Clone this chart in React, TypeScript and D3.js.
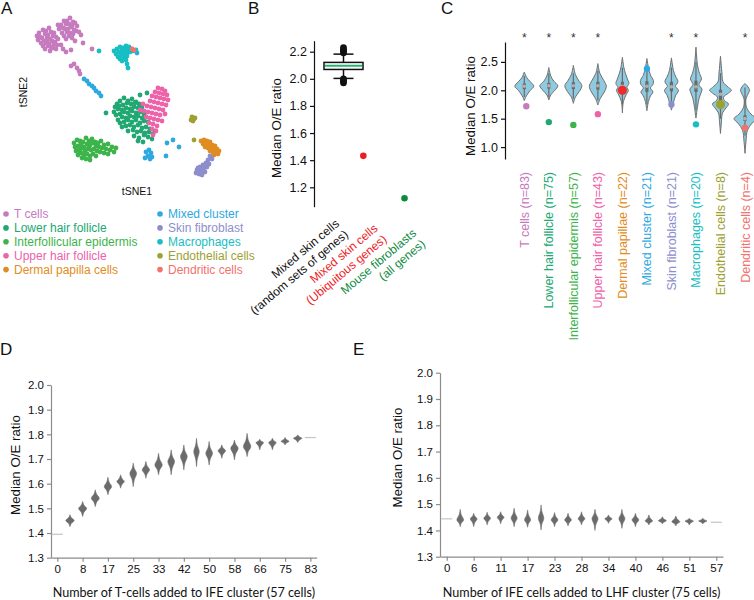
import React, { useRef, useEffect } from 'react';
import * as d3 from 'd3';

const ARIAL = '"Liberation Sans", Arial, Helvetica, sans-serif';
const HUMANIST = 'Lato, "Open Sans", sans-serif';

// ---------- A: tSNE map ----------
const clusterNames = [
  'T cells',
  'Lower hair follicle',
  'Interfollicular epidermis',
  'Upper hair follicle',
  'Dermal papilla cells',
  'Mixed cluster',
  'Skin fibroblast',
  'Macrophages',
  'Endothelial cells',
  'Dendritic cells',
];
const clusterColors = [
  '#c57bbe',
  '#21a872',
  '#3db44b',
  '#ee62a9',
  '#df8d22',
  '#2da9e1',
  '#8d8ecb',
  '#17bec3',
  '#9da131',
  '#f2726e',
];

// tSNE1 / tSNE2 coordinates
const tCellPoints = [
  [-88, 64], [-86, 67], [-82, 70], [-79, 69], [-76, 72], [-87, 60], [-83, 62], [-80, 66], [-77, 65], [-74, 68], [-71, 67],
  [-84, 57], [-81, 59], [-78, 62], [-75, 61], [-72, 64], [-69, 63], [-82, 54], [-79, 57], [-76, 56], [-73, 59], [-70, 58], [-67, 61],
  [-80, 51], [-77, 54], [-74, 53], [-71, 56], [-68, 55], [-75, 49], [-72, 52], [-69, 51], [-85, 63], [-78, 58],
  [-67, 75], [-64, 75], [-61, 79], [-58, 79], [-55, 82], [-52, 78], [-66, 71], [-62, 72], [-59, 76], [-56, 76], [-53, 74], [-50, 77],
  [-63, 67], [-60, 71], [-57, 71], [-54, 73], [-51, 70], [-48, 74], [-61, 64], [-58, 68], [-55, 67], [-52, 66], [-49, 69], [-46, 68],
  [-59, 61], [-56, 64], [-53, 62], [-44, 65], [-50, 59], [-42, 57], [-64, 55], [-62, 51], [-59, 48], [-54, 50],
  [-33, 51], [-54, 34], [-51, 36], [-48, 32], [-46, 29], [-45, 26],
];
const lhfPoints = [
  [-8, -4], [-5, -1], [-1, 2], [3, -1], [7, 1], [11, -2], [-10, -7], [-6, -6], [-2, -5], [2, -3], [6, -4], [10, -3], [14, -4],
  [-11, -12], [-7, -9], [-3, -10], [1, -8], [5, -9], [9, -7], [13, -8], [17, -7], [-9, -15], [-5, -14], [-1, -12], [3, -13],
  [7, -11], [11, -13], [15, -12], [19, -14], [-7, -20], [-3, -17], [1, -18], [5, -16], [9, -17], [13, -16], [17, -18], [21, -17],
  [-5, -23], [-1, -22], [3, -20], [7, -22], [11, -20], [15, -23], [19, -21], [23, -22], [-3, -27], [1, -26], [5, -25], [9, -27],
  [13, -25], [17, -28], [21, -27], [25, -29], [3, -31], [8, -30], [12, -32], [16, -31], [20, -33], [24, -32], [28, -34],
  [9, -36], [14, -38], [19, -35], [23, -37], [27, -39], [13, -41], [18, -42], [-19, -13], [22, 7], [15, 5], [30, -31],
];
const ifePoints = [
  [-51, -43], [-48, -40], [-45, -41], [-42, -42], [-39, -38], [-36, -41], [-33, -39], [-30, -42], [-27, -43], [-24, -41],
  [-21, -45], [-17, -44], [-13, -47], [-9, -48], [-50, -47], [-47, -46], [-44, -44], [-41, -47], [-38, -44], [-35, -45],
  [-32, -43], [-29, -46], [-26, -47], [-23, -48], [-19, -49], [-15, -50], [-11, -52], [-49, -51], [-46, -50], [-43, -48],
  [-40, -51], [-37, -49], [-34, -50], [-31, -49], [-28, -51], [-25, -52], [-21, -53], [-17, -54], [-47, -55], [-44, -53],
  [-41, -55], [-38, -54], [-35, -56], [-32, -54], [-29, -56], [-43, -58], [-39, -59], [-35, -60], [-36, -47], [-45, -52],
];
const uhfPoints = [
  [33, 12], [37, 11], [40, 9], [30, 8], [34, 7], [38, 6], [42, 5], [27, 4], [31, 3], [35, 2], [39, 1], [43, 0],
  [25, -1], [29, -2], [33, -3], [37, -4], [41, -5], [18, -4], [22, -6], [26, -7], [30, -8], [34, -9], [38, -10],
  [15, -10], [19, -11], [23, -12], [27, -13], [31, -14], [35, -15], [21, -17], [25, -18], [29, -19], [33, -20], [37, -21],
  [24, -23], [28, -24], [32, -26], [27, -29], [31, -31], [40, -14], [28, -35],
];
const dermalPoints = [
  [76, -41], [79, -40], [82, -41], [85, -42], [78, -44], [81, -44], [84, -45], [87, -45], [90, -46], [80, -47],
  [83, -48], [86, -48], [89, -49], [92, -49], [85, -51], [88, -52], [91, -52], [94, -51], [89, -55], [93, -54],
];
const mixedPoints = [
  [-41, 21], [-38, 19], [-36, 16], [-33, 14], [-31, 12], [-29, 9], [-26, 7], [-24, 4], [12, 47],
  [42, -43], [48, -40], [54, -47], [41, -56], [21, -52], [24, -50], [26, -53], [23, -56], [27, -57], [20, -58], [25, -59],
];
const fibroblastPoints = [
  [85, -56], [87, -59], [83, -60], [81, -63], [84, -64], [78, -65], [75, -67], [79, -68], [82, -67],
  [72, -70], [75, -71], [78, -71], [71, -73], [74, -74], [77, -75], [80, -72], [73, -68],
];
const macrophagePoints = [
  [-11, 49], [-8, 51], [-5, 53], [-2, 52], [1, 54], [4, 53], [-9, 46], [-6, 48], [-3, 49], [0, 50], [3, 50], [6, 51],
  [-7, 43], [-4, 45], [-1, 46], [2, 47], [5, 48], [8, 49], [11, 50], [-5, 41], [-1, 43], [2, 44], [-3, 39], [1, 40],
  [2, 36], [3, 32], [-26, 49],
];
const endothelialPoints = [[67, -17], [69, -19], [66, -20], [68, -21], [70, -18], [69, -40]];
const dendriticPoints = [[7, 51], [9, 50]];

const tsneClusters = [
  tCellPoints, lhfPoints, ifePoints, uhfPoints, dermalPoints,
  mixedPoints, fibroblastPoints, macrophagePoints, endothelialPoints, dendriticPoints,
];

// ---------- B: O/E ratio of reference sets ----------
const bLabelLines = [
  ['Mixed skin cells', '(random sets of genes)'],
  ['Mixed skin cells', '(Ubiquitous genes)'],
  ['Mouse fibroblasts', '(all genes)'],
];
const bLabelColors = ['#111111', '#ed1c24', '#0e8a3e'];
const bTicks = [1.2, 1.4, 1.6, 1.8, 2.0, 2.2];
const bRandomBox = { lo: 2.003, q1: 2.069, median: 2.096, q3: 2.121, hi: 2.182 };
const bRandomOutliers = [2.19, 2.2, 2.21, 2.22, 2.23, 1.97, 1.98, 1.99, 2.0];
const bUbiquitous = 1.432;
const bUbiquitousJitter = -0.35;
const bFibroblast = 1.119;

// ---------- C: per-cluster violins ----------
const cLabels = [
  'T cells (n=83)',
  'Lower hair follicle (n=75)',
  'Interfollicular epidermis (n=57)',
  'Upper hair follicle (n=43)',
  'Dermal papillae (n=22)',
  'Mixed cluster (n=21)',
  'Skin fibroblast (n=21)',
  'Macrophages (n=20)',
  'Endothelial cells (n=8)',
  'Dendritic cells (n=4)',
];
const cColors = ['#c57bbe', '#21a872', '#3db44b', '#ee62a9', '#df8d22', '#2da9e1', '#8d8ecb', '#17bec3', '#9da131', '#f2726e'];
const cTicks = [1.0, 1.5, 2.0, 2.5];
const cSignificant = [true, true, true, true, false, false, true, true, false, true];
const cClusterValue = [1.72, 1.44, 1.39, 1.58, 2.0, 2.38, 1.75, 1.4, 1.75, 1.34];
const cMedian = [2.07, 2.08, 2.08, 2.08, 2.07, 2.07, 2.06, 2.06, 1.93, 1.5];
const cQ1 = [2.02, 2.03, 2.02, 2.01, 1.98, 1.97, 1.98, 1.97, 1.76, 1.46];
const cQ3 = [2.12, 2.13, 2.14, 2.15, 2.15, 2.16, 2.15, 2.17, 2.01, 1.56];
const cLow = [1.88, 1.88, 1.85, 1.82, 1.75, 1.75, 1.78, 1.65, 1.5, 1.2];
const cHigh = [2.25, 2.3, 2.3, 2.35, 2.4, 2.4, 2.4, 2.5, 2.3, 2.05];
// [value, density] pairs tracing each violin outline
const cViolinProfiles = [
  [[1.82, 0], [1.9, 2], [2.0, 6], [2.07, 9.5], [2.15, 6], [2.22, 2.5], [2.32, 0]],
  [[1.83, 0], [1.92, 2], [2.0, 6], [2.08, 9], [2.16, 5], [2.25, 2], [2.4, 0]],
  [[1.77, 0], [1.88, 2], [1.98, 6], [2.08, 8.5], [2.18, 5], [2.28, 2], [2.44, 0]],
  [[1.74, 0], [1.86, 2.5], [1.97, 6.5], [2.07, 8.5], [2.17, 6], [2.3, 2], [2.47, 0]],
  [[1.6, 0], [1.8, 1], [1.93, 4], [2.0, 6], [2.05, 4.5], [2.12, 6.5], [2.2, 5], [2.3, 3], [2.4, 1.5], [2.58, 0]],
  [[1.64, 0], [1.8, 1.5], [1.9, 3.5], [1.97, 6], [2.04, 3.5], [2.1, 6], [2.17, 6.5], [2.27, 3.5], [2.4, 1.5], [2.56, 0]],
  [[1.65, 0], [1.78, 2], [1.9, 4], [2.0, 7], [2.07, 4], [2.15, 6.5], [2.25, 4], [2.35, 2], [2.57, 0]],
  [[1.51, 0], [1.7, 1.5], [1.85, 3], [1.95, 5], [2.02, 6], [2.1, 3], [2.2, 5.5], [2.3, 3.5], [2.45, 1.5], [2.76, 0]],
  [[1.24, 0], [1.45, 1], [1.6, 2], [1.7, 6], [1.76, 8], [1.82, 4], [1.88, 3], [1.95, 8], [2.0, 11], [2.05, 8], [2.15, 2.5], [2.3, 1.5], [2.6, 0]],
  [[0.89, 0], [1.1, 1], [1.3, 2.5], [1.42, 7], [1.5, 11], [1.58, 6], [1.7, 1.5], [1.85, 1], [1.95, 3.5], [2.0, 4.5], [2.06, 3], [2.12, 0]],
];

// ---------- D / E: mixing experiments ----------
const rampYTicks = [1.3, 1.4, 1.5, 1.6, 1.7, 1.8, 1.9, 2.0];

const dCategories = [0, 4, 8, 13, 17, 21, 25, 29, 33, 38, 42, 46, 50, 54, 58, 62, 66, 71, 75, 79, 83];
const dTickLabels = [0, 8, 17, 25, 33, 42, 50, 58, 66, 75, 83];
const dRefStart = 1.395;
const dRefEnd = 1.787;
const dMid = [1.451, 1.5, 1.541, 1.588, 1.609, 1.642, 1.656, 1.676, 1.69, 1.71, 1.73, 1.723, 1.734, 1.744, 1.75, 1.767, 1.767, 1.772, 1.784];
const dLow = [1.426, 1.467, 1.507, 1.555, 1.582, 1.588, 1.622, 1.636, 1.636, 1.656, 1.669, 1.676, 1.703, 1.696, 1.71, 1.737, 1.737, 1.757, 1.767];
const dHigh = [1.474, 1.528, 1.575, 1.626, 1.636, 1.683, 1.69, 1.723, 1.737, 1.757, 1.784, 1.771, 1.757, 1.777, 1.804, 1.78, 1.784, 1.787, 1.798];
const dDensity = [1, 0.95, 0.95, 0.88, 0.88, 0.8, 0.88, 0.88, 0.8, 0.8, 0.65, 0.8, 0.88, 0.88, 0.88, 0.88, 0.88, 0.95, 1];

const eCategories = [0, 3, 6, 8, 11, 14, 17, 20, 23, 25, 28, 31, 34, 37, 40, 43, 46, 48, 51, 54, 57];
const eTickLabels = [0, 6, 11, 17, 23, 28, 34, 40, 46, 51, 57];
const eRefStart = 1.444;
const eRefEnd = 1.431;
const eMid = [1.44, 1.444, 1.446, 1.45, 1.446, 1.44, 1.446, 1.44, 1.44, 1.444, 1.445, 1.444, 1.445, 1.44, 1.436, 1.437, 1.433, 1.436, 1.436];
const eLow = [1.414, 1.414, 1.421, 1.425, 1.414, 1.412, 1.402, 1.414, 1.417, 1.421, 1.4, 1.427, 1.408, 1.414, 1.421, 1.425, 1.417, 1.421, 1.425];
const eHigh = [1.48, 1.465, 1.469, 1.471, 1.484, 1.478, 1.497, 1.468, 1.465, 1.471, 1.48, 1.459, 1.48, 1.465, 1.459, 1.452, 1.455, 1.446, 1.446];
const eDensity = [0.8, 0.8, 0.8, 0.8, 0.72, 0.72, 0.65, 0.8, 0.8, 0.8, 0.72, 0.88, 0.72, 0.8, 0.88, 0.95, 0.95, 1, 1];

const styleAxis = (g, lineColor, fontSize) => {
  g.attr('font-family', ARIAL);
  g.select('.domain').attr('stroke', lineColor).attr('stroke-width', 1.2);
  g.selectAll('.tick line').attr('stroke', lineColor).attr('stroke-width', 1.2);
  g.selectAll('.tick text')
    .attr('fill', '#111')
    .attr('font-size', fontSize)
    .attr('font-family', ARIAL);
};

const panelLetter = (svg, letter, x, y) => {
  svg
    .append('text')
    .attr('x', x)
    .attr('y', y)
    .attr('font-family', ARIAL)
    .attr('font-size', 17)
    .attr('fill', '#111')
    .text(letter);
};

const verticalTitle = (svg, text, x, y, size) => {
  svg
    .append('text')
    .attr('transform', `translate(${x},${y}) rotate(-90)`)
    .attr('text-anchor', 'middle')
    .attr('font-family', ARIAL)
    .attr('font-size', size)
    .attr('fill', '#111')
    .text(text);
};

const drawTsne = (svg) => {
  const x = d3.scaleLinear().domain([-100, 100]).range([25, 225]);
  const y = d3.scaleLinear().domain([-100, 100]).range([200, 0]);
  const g = svg.append('g');
  tsneClusters.forEach((pts, i) => {
    g.selectAll(null)
      .data(pts)
      .enter()
      .append('circle')
      .attr('cx', (d) => x(d[0]))
      .attr('cy', (d) => y(d[1]))
      .attr('r', 2.4)
      .attr('fill', clusterColors[i]);
  });

  svg
    .append('text')
    .attr('x', 137)
    .attr('y', 195)
    .attr('text-anchor', 'middle')
    .attr('font-family', ARIAL)
    .attr('font-size', 10.5)
    .attr('fill', '#111')
    .text('tSNE1');
  verticalTitle(svg, 'tSNE2', 26.5, 92, 10.5);

  // legend, two columns of five
  const legend = svg.append('g');
  clusterNames.forEach((name, i) => {
    const col = Math.floor(i / 5);
    const row = i % 5;
    const lx = col === 0 ? 6 : 160;
    const ly = 214 + row * 13.9;
    legend.append('circle').attr('cx', lx).attr('cy', ly).attr('r', 2.8).attr('fill', clusterColors[i]);
    legend
      .append('text')
      .attr('x', lx + 8)
      .attr('y', ly + 4.2)
      .attr('font-family', ARIAL)
      .attr('font-size', 12)
      .attr('fill', clusterColors[i])
      .text(name);
  });
};

const drawB = (svg) => {
  const cats = bLabelLines.map((l) => l.join(' '));
  const x = d3.scalePoint().domain(cats).range([343.5, 404.5]);
  const labelX = d3.scalePoint().domain(cats).range([340, 417]);
  const labelY = d3.scalePoint().domain(cats).range([225, 234.5]);
  const y = d3.scaleLinear().domain([1.057, 2.281]).range([206.7, 40.7]);

  const axis = svg
    .append('g')
    .attr('transform', 'translate(314,0)')
    .call(d3.axisLeft(y).tickValues(bTicks).tickFormat(d3.format('.1f')).tickSize(4).tickSizeOuter(0).tickPadding(3));
  styleAxis(axis, '#111', 12.5);
  verticalTitle(svg, 'Median O/E ratio', 281, 128, 13.3);

  const bx = x(cats[0]);
  const g = svg.append('g');
  g.append('line').attr('x1', bx).attr('x2', bx).attr('y1', y(bRandomBox.q3)).attr('y2', y(bRandomBox.hi)).attr('stroke', '#111').attr('stroke-width', 1.5);
  g.append('line').attr('x1', bx).attr('x2', bx).attr('y1', y(bRandomBox.q1)).attr('y2', y(bRandomBox.lo)).attr('stroke', '#111').attr('stroke-width', 1.5);
  [bRandomBox.hi, bRandomBox.lo].forEach((v) => {
    g.append('line').attr('x1', bx - 10).attr('x2', bx + 10).attr('y1', y(v)).attr('y2', y(v)).attr('stroke', '#111').attr('stroke-width', 1.5);
  });
  g.selectAll(null)
    .data(bRandomOutliers)
    .enter()
    .append('circle')
    .attr('cx', bx)
    .attr('cy', (d) => y(d))
    .attr('r', 3.3)
    .attr('fill', '#111');
  g.append('rect')
    .attr('x', bx - 19.5)
    .attr('width', 39)
    .attr('y', y(bRandomBox.q3))
    .attr('height', y(bRandomBox.q1) - y(bRandomBox.q3))
    .attr('fill', '#fff')
    .attr('stroke', '#111')
    .attr('stroke-width', 1.5);
  g.append('line')
    .attr('x1', bx - 18.5)
    .attr('x2', bx + 18.5)
    .attr('y1', y(bRandomBox.median))
    .attr('y2', y(bRandomBox.median))
    .attr('stroke', '#27b574')
    .attr('stroke-width', 2);

  const step = x.step();
  g.append('circle').attr('cx', x(cats[1]) + bUbiquitousJitter * step).attr('cy', y(bUbiquitous)).attr('r', 3.3).attr('fill', bLabelColors[1]);
  g.append('circle').attr('cx', x(cats[2])).attr('cy', y(bFibroblast)).attr('r', 3.3).attr('fill', bLabelColors[2]);

  bLabelLines.forEach((lines, i) => {
    const t = svg
      .append('text')
      .attr('transform', `translate(${labelX(cats[i])},${labelY(cats[i])}) rotate(-40)`)
      .attr('text-anchor', 'end')
      .attr('font-family', ARIAL)
      .attr('font-size', 12)
      .attr('fill', bLabelColors[i]);
    lines.forEach((line, j) => {
      t.append('tspan').attr('x', 0).attr('y', j * 14).text(line);
    });
  });
};

const drawC = (svg) => {
  const x = d3.scalePoint().domain(cLabels).range([524.3, 745]);
  const y = d3.scaleLinear().domain([0.79, 2.85]).range([159, 42]);
  const w = d3.scaleLinear().domain([0, 11]).range([0, 11]);

  const axis = svg
    .append('g')
    .attr('transform', 'translate(505,0)')
    .call(d3.axisLeft(y).tickValues(cTicks).tickFormat(d3.format('.1f')).tickSize(4).tickSizeOuter(0).tickPadding(3));
  styleAxis(axis, '#111', 12.5);
  verticalTitle(svg, 'Median O/E ratio', 474.5, 106, 13.3);

  const g = svg.append('g');
  cLabels.forEach((label, i) => {
    const cx = x(label);
    const area = d3
      .area()
      .y((d) => y(d[0]))
      .x0((d) => cx - w(d[1]))
      .x1((d) => cx + w(d[1]))
      .curve(d3.curveCatmullRom);
    g.append('path')
      .attr('d', area(cViolinProfiles[i]))
      .attr('fill', '#8ecbe0')
      .attr('stroke', '#6f6f6f')
      .attr('stroke-width', 1);
    g.append('line').attr('x1', cx).attr('x2', cx).attr('y1', y(cLow[i])).attr('y2', y(cHigh[i])).attr('stroke', '#6a6a6a').attr('stroke-width', 1.2);
    g.append('rect').attr('x', cx - 1.6).attr('width', 3.2).attr('y', y(cQ3[i])).attr('height', y(cQ1[i]) - y(cQ3[i])).attr('fill', '#6a6a6a');
    g.append('circle').attr('cx', cx).attr('cy', y(cMedian[i])).attr('r', 1.8).attr('fill', '#b0b0b0');

    const big = label.startsWith('Dermal') || label.startsWith('Endothelial');
    g.append('circle')
      .attr('cx', cx + (i === 0 ? 2 : 0))
      .attr('cy', y(cClusterValue[i]))
      .attr('r', big ? 4.6 : 3.2)
      .attr('fill', label.startsWith('Dermal') ? '#ee2a2a' : cColors[i]);

    if (cSignificant[i]) {
      svg.append('text').attr('x', cx).attr('y', 42).attr('text-anchor', 'middle').attr('font-family', ARIAL).attr('font-size', 12).attr('fill', '#333').text('*');
    }
    svg
      .append('text')
      .attr('transform', `translate(${cx + 4.5},172) rotate(-90)`)
      .attr('text-anchor', 'end')
      .attr('font-family', ARIAL)
      .attr('font-size', 12.5)
      .attr('fill', cColors[i])
      .text(label);
  });
};

const drawRamp = (svg, o) => {
  const x = d3.scalePoint().domain(o.cats.map(String)).range(o.xRange).padding(0.5);
  const y = d3.scaleLinear().domain([1.3, 2.0]).range(o.yRange);
  const maxHalf = 4.2;

  const yAxis = svg
    .append('g')
    .attr('transform', `translate(${o.xRange[0]},0)`)
    .call(d3.axisLeft(y).tickValues(rampYTicks).tickFormat(d3.format('.1f')).tickSize(4).tickSizeOuter(0).tickPadding(3));
  styleAxis(yAxis, '#8c8c8c', 11.5);
  const xAxis = svg
    .append('g')
    .attr('transform', `translate(0,${o.yRange[0]})`)
    .call(d3.axisBottom(x).tickValues(o.ticks.map(String)).tickSize(4).tickSizeOuter(0).tickPadding(3));
  styleAxis(xAxis, '#8c8c8c', 11.5);

  const g = svg.append('g');
  const first = x(String(o.cats[0]));
  const last = x(String(o.cats[o.cats.length - 1]));
  [[first, o.refStart], [last, o.refEnd]].forEach(([cx, v]) => {
    g.append('line').attr('x1', cx - 5.5).attr('x2', cx + 5.5).attr('y1', y(v)).attr('y2', y(v)).attr('stroke', '#c4c4c4').attr('stroke-width', 1.2);
  });

  o.mid.forEach((m, i) => {
    const cx = x(String(o.cats[i + 1]));
    const lo = o.low[i];
    const hi = o.high[i];
    const half = o.density[i] * maxHalf;
    const profile = [
      [lo, 0],
      [lo + (m - lo) * 0.5, half * 0.3],
      [m, half],
      [m + (hi - m) * 0.5, half * 0.3],
      [hi, 0],
    ];
    const area = d3
      .area()
      .y((d) => y(d[0]))
      .x0((d) => cx - d[1])
      .x1((d) => cx + d[1])
      .curve(d3.curveCatmullRom);
    g.append('path').attr('d', area(profile)).attr('fill', '#6b6b6b').attr('stroke', '#6b6b6b').attr('stroke-width', 0.6);
  });

  verticalTitle(svg, 'Median O/E ratio', o.yTitleX, o.yTitleY, 13.3);
  svg
    .append('text')
    .attr('x', (o.xRange[0] + o.xRange[1]) / 2)
    .attr('y', 597)
    .attr('text-anchor', 'middle')
    .attr('font-family', HUMANIST)
    .attr('font-size', 12.6)
    .attr('fill', '#111')
    .text(o.title);
};

export default function App() {
  const svgRef = useRef(null);

  useEffect(() => {
    const svg = d3.select(svgRef.current);
    svg.selectAll('*').remove();

    panelLetter(svg, 'A', 1, 13.5);
    panelLetter(svg, 'B', 248, 13.5);
    panelLetter(svg, 'C', 441, 13.5);
    panelLetter(svg, 'D', 0, 355);
    panelLetter(svg, 'E', 353, 355);

    drawTsne(svg);
    drawB(svg);
    drawC(svg);
    drawRamp(svg, {
      cats: dCategories,
      ticks: dTickLabels,
      mid: dMid,
      low: dLow,
      high: dHigh,
      density: dDensity,
      refStart: dRefStart,
      refEnd: dRefEnd,
      xRange: [51, 316.7],
      yRange: [557.7, 385],
      yTitleX: 19.5,
      yTitleY: 465,
      title: 'Number of T-cells added to IFE cluster (57 cells)',
    });
    drawRamp(svg, {
      cats: eCategories,
      ticks: eTickLabels,
      mid: eMid,
      low: eLow,
      high: eHigh,
      density: eDensity,
      refStart: eRefStart,
      refEnd: eRefEnd,
      xRange: [440, 723],
      yRange: [556.7, 372.7],
      yTitleX: 402,
      yTitleY: 457.5,
      title: 'Number of IFE cells added to LHF cluster (75 cells)',
    });
  }, []);

  return (
    <svg
      ref={svgRef}
      width={754}
      height={600}
      style={{ position: 'absolute', left: 0, top: 0, background: '#fff' }}
    />
  );
}
